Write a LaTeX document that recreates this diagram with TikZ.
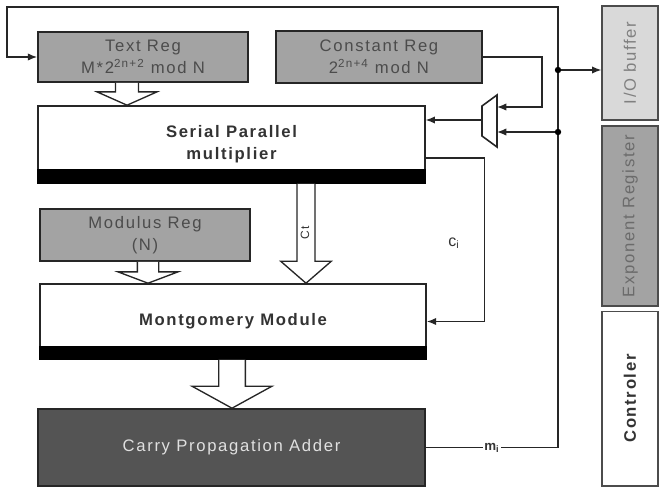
\documentclass[tikz,border=0pt]{standalone}
\usepackage{fontspec}
\setmainfont{Liberation Sans}[LetterSpace=10]
\usetikzlibrary{arrows.meta}

\definecolor{reggray}{gray}{0.64}
\definecolor{iogray}{gray}{0.85}
\definecolor{cpagray}{gray}{0.33}

\tikzset{
  boxtext/.style={font=\fontsize{12.5}{16.5}\selectfont, align=center, inner sep=0pt},
  reg/.style={boxtext, draw=black!85, line width=1.2pt, fill=reggray, text=black!70},
  unit/.style={boxtext, draw=black!85, line width=1.2pt, fill=white, text=black!80, font=\fontsize{12.5}{16.5}\selectfont\bfseries},
  side/.style={boxtext, draw=black!70, line width=1pt, rotate=90},
  wire/.style={line width=1pt, draw=black!85},
  tip/.style={-{Latex[length=7pt,width=5.5pt]}},
  hollow/.style={draw=black!85, line width=1pt, fill=white},
  lbl/.style={font=\fontsize{12}{13}\selectfont, text=black!80, inner sep=1pt}
}

% hollow bus arrow: x, from node, to node, shaft half width, head half width, head length
\newcommand{\busarrow}[6]{%
  \coordinate (s) at (#1,0 |- #2.south);
  \coordinate (t) at (#1,0 |- #3.north);
  \draw[hollow] ([xshift=-#4]s) -- ([xshift=-#4,yshift=#6]t) -- ([xshift=-#5,yshift=#6]t) -- (t)
    -- ([xshift=#5,yshift=#6]t) -- ([xshift=#4,yshift=#6]t) -- ([xshift=#4]s);
}

\begin{document}
\begin{tikzpicture}[x=0.75pt,y=-0.75pt]
  \useasboundingbox (0,0) rectangle (660,489);

  % registers
  \node[reg, minimum width=157.5pt, minimum height=37.5pt] (textreg) at (143,57) {Text Reg\\M*2\textsuperscript{2n+2} mod N};
  \node[reg, minimum width=154.5pt, minimum height=39pt] (constreg) at (379,57) {Constant Reg\\2\textsuperscript{2n+4} mod N};
  \node[reg, minimum width=157.5pt, minimum height=39pt] (modreg) at (145,235) {Modulus Reg\\(N)};

  % datapath
  \node[unit, minimum width=290pt, minimum height=57.75pt] (spm) at (231.5,144.5) {Serial Parallel\\multiplier};
  \fill[black] (spm.south west) rectangle ([yshift=11pt]spm.south east);
  \node[unit, minimum width=289.5pt, minimum height=56.25pt] (mont) at (233,321.5) {Montgomery Module};
  \fill[black] (mont.south west) rectangle ([yshift=10pt]mont.south east);
  \node[reg, fill=cpagray, text=black!12, minimum width=290pt, minimum height=57.75pt] (cpa) at (231.5,447.5) {Carry Propagation Adder};

  % right column
  \node[side, fill=iogray, text=black!50, minimum width=85.5pt, minimum height=42pt] (iobuf) at (630,63) {I/O buffer};
  \node[side, fill=reggray, text=black!58, minimum width=135pt, minimum height=42pt] (expreg) at (630,216) {Exponent Register};
  \node[side, fill=white, text=black!80, font=\fontsize{12.5}{16.5}\selectfont\bfseries, minimum width=131pt, minimum height=42pt] (ctrl) at (630,398.5) {Controler};

  % bus arrows
  \busarrow{127}{textreg}{spm}{8.6pt}{22.5pt}{10pt}
  \busarrow{148}{modreg}{mont}{8pt}{22.5pt}{8.5pt}
  \busarrow{306}{spm}{mont}{6.75pt}{19pt}{16.5pt}
  \busarrow{232}{mont}{cpa}{10pt}{30pt}{16.5pt}
  \node[lbl, rotate=90, font=\fontsize{9}{10}\selectfont] (ct) at (305,233) {Ct};

  % multiplexer
  \draw[wire, line width=1.2pt] (482,106) -- (497,95) -- (497,147) -- (482,136) -- cycle;
  \coordinate (muxin1) at (497,107);
  \coordinate (muxin2) at (497,132);
  \coordinate (muxout) at (482,120);
  \coordinate (cbend) at (542,107);
  \coordinate (tapio) at (558,70);
  \coordinate (tapmux) at (558,132);
  \coordinate (bustop) at (558,7);
  \coordinate (loopcorner) at (7,7);

  % wires
  \draw[wire, tip] (constreg.east) -| (cbend) -- (muxin1);
  \draw[wire, tip] (muxout) -- (muxout -| spm.east);
  \draw[wire, tip] (tapmux) -- (muxin2);
  \draw[wire, tip] (tapio) -- (tapio -| iobuf.north);
  \draw[wire, tip] ([yshift=-10pt]spm.east) -- ++(59,0) coordinate (cibend) |- (mont.east);
  \node[lbl] (cilabel) at (454,243) {c\textsubscript{i}};
  \draw[wire, tip] (cpa.east) -- node[lbl, fill=white, font=\fontsize{10}{11}\selectfont\bfseries] (milabel) {m\textsubscript{i}} (bustop |- cpa.east)
    -- (bustop) -- (loopcorner) |- (textreg.west);
  \fill (tapio) circle (2.4pt);
  \fill (tapmux) circle (2.4pt);
\end{tikzpicture}
\end{document}
